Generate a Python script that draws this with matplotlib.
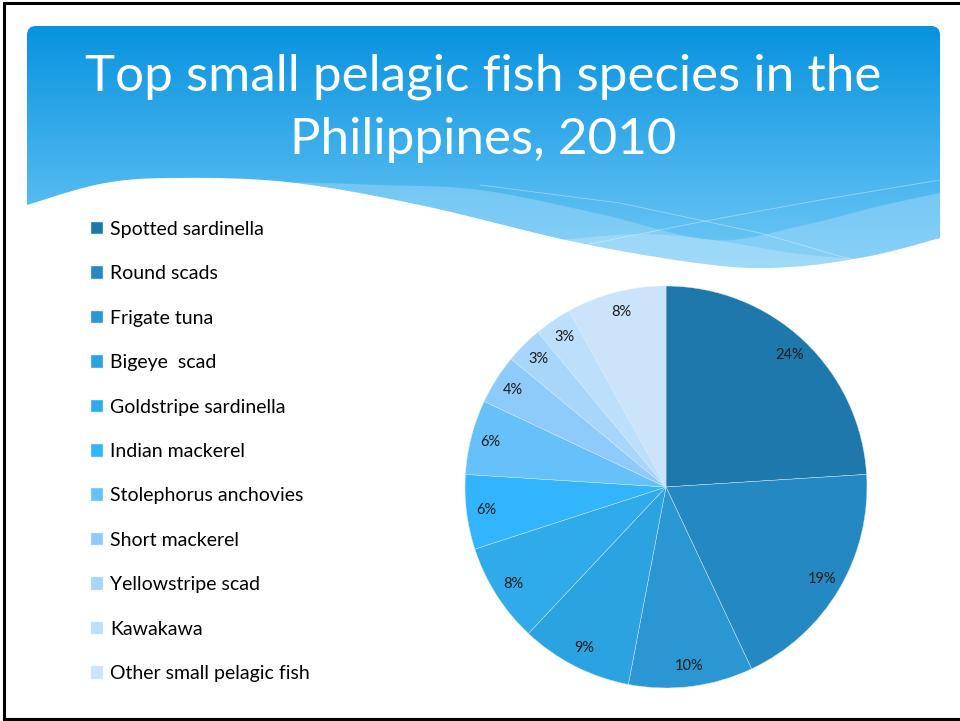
import numpy as np
import matplotlib.pyplot as plt
from matplotlib.patches import FancyBboxPatch, Polygon
from matplotlib.lines import Line2D

plt.rcParams['font.family'] = ['Lato', 'DejaVu Sans']

# Catch share of small pelagic species, 2010 (%)
species = ['Spotted sardinella', 'Round scads', 'Frigate tuna', 'Bigeye  scad',
           'Goldstripe sardinella', 'Indian mackerel', 'Stolephorus anchovies',
           'Short mackerel', 'Yellowstripe scad', 'Kawakawa',
           'Other small pelagic fish']
shares = [24, 19, 10, 9, 8, 6, 6, 4, 3, 3, 8]
colors = ['#1e78ab', '#2489c2', '#2a96d2', '#2ba3e1', '#2fabec', '#33b5fd',
          '#66c1fb', '#8ecbfb', '#a8d6fa', '#bcdffb', '#cbe4fa']

W, H = 960, 721
fig = plt.figure(figsize=(W / 100, H / 100), dpi=100, facecolor='white')


def smooth(xs, ys, n=200):
    """Catmull-Rom spline through the control points."""
    p = np.column_stack([xs, ys]).astype(float)
    p = np.vstack([p[0], p, p[-1]])
    out = []
    for i in range(1, len(p) - 2):
        p0, p1, p2, p3 = p[i - 1], p[i], p[i + 1], p[i + 2]
        t = np.linspace(0, 1, n // (len(p) - 3) + 2)[:, None]
        seg = 0.5 * ((2 * p1) + (-p0 + p2) * t + (2 * p0 - 5 * p1 + 4 * p2 - p3) * t ** 2
                     + (-p0 + 3 * p1 - 3 * p2 + p3) * t ** 3)
        out.append(seg)
    return np.vstack(out)


# background layer in pixel coordinates
bg = fig.add_axes([0, 0, 1, 1])
bg.set_xlim(0, W)
bg.set_ylim(H, 0)
bg.axis('off')

# header band with vertical gradient
grad = np.linspace(0, 1, 256).reshape(-1, 1)
top_c = np.array([0x08, 0x93, 0xdf]) / 255
bot_c = np.array([0x74, 0xcb, 0xf8]) / 255
img = (top_c + (bot_c - top_c) * grad).reshape(256, 1, 3)
header = FancyBboxPatch((27, 26), 913, 250, boxstyle='round,pad=0,rounding_size=9',
                        facecolor='none', edgecolor='none')
bg.add_patch(header)
im = bg.imshow(img, extent=(27, 940, 276, 26), aspect='auto', zorder=1)
im.set_clip_path(header)

# upper boundary of the light wave bands
upper = smooth([287, 380, 480, 600, 713, 800, 880, 940],
               [182, 185, 190, 214, 240, 226, 206, 193])
# white curve that closes the header
edge = smooth([27, 100, 170, 287, 420, 580, 713, 790, 870, 940],
              [205, 184, 178, 182, 205, 243, 265, 267, 256, 238])

band = np.vstack([upper, edge[::-1]])
band = band[band[:, 0] >= 280]
bg.add_patch(Polygon(band, closed=True, facecolor='#a6dcfa', edgecolor='none',
                     alpha=0.45, zorder=2))
lower = np.vstack([smooth([560, 640, 713, 800, 880, 940], [240, 234, 240, 254, 258, 242]),
                   [[940, 290], [560, 290]]])
bg.add_patch(Polygon(lower, closed=True, facecolor='#c6e8fc', edgecolor='none',
                     alpha=0.4, zorder=2))

# faint crossing lines over the bands
bg.plot([480, 620, 760, 860], [185, 203, 233, 262], color='white', lw=0.6, alpha=0.4, zorder=3)
bg.plot([560, 700, 820, 940], [250, 222, 200, 180], color='white', lw=0.6, alpha=0.4, zorder=3)

white = np.vstack([edge, [[940, 290], [27, 290]]])
bg.add_patch(Polygon(white, closed=True, facecolor='white', edgecolor='none', zorder=4))

# slide frame
bg.add_line(Line2D([4, 4, W + 5, W + 5, 4], [719, 3, 3, 719, 719], color='black', lw=2.2,
                   zorder=6, solid_joinstyle='miter'))

fig.text(483 / W, 1 - 90 / H, 'Top small pelagic fish species in the',
         ha='center', va='baseline', color='white', fontsize=36.8)
fig.text(483 / W, 1 - 154 / H, 'Philippines, 2010',
         ha='center', va='baseline', color='white', fontsize=36.8)

# pie
cx, cy, r = 666, 487, 201
ax = fig.add_axes([(cx - r) / W, (H - cy - r) / H, 2 * r / W, 2 * r / H])
wedges, _, autotexts = ax.pie(shares, colors=colors, startangle=90, counterclock=False,
                              autopct='%d%%', pctdistance=0.9,
                              wedgeprops=dict(edgecolor='#d8eefb', linewidth=0.3),
                              textprops=dict(color='#1a1a1a', fontsize=10.5))
ax.set_xlim(-1, 1)
ax.set_ylim(-1, 1)
ax.set_aspect('equal')

fig.legend(wedges, species, loc='upper left', bbox_to_anchor=(91 / W, 1 - 221 / H),
           frameon=False, fontsize=14, handlelength=0.62, handleheight=0.62,
           handletextpad=0.35, labelspacing=1.41, borderpad=0, borderaxespad=0)

fig.savefig('out.png', dpi=100, facecolor='white')
